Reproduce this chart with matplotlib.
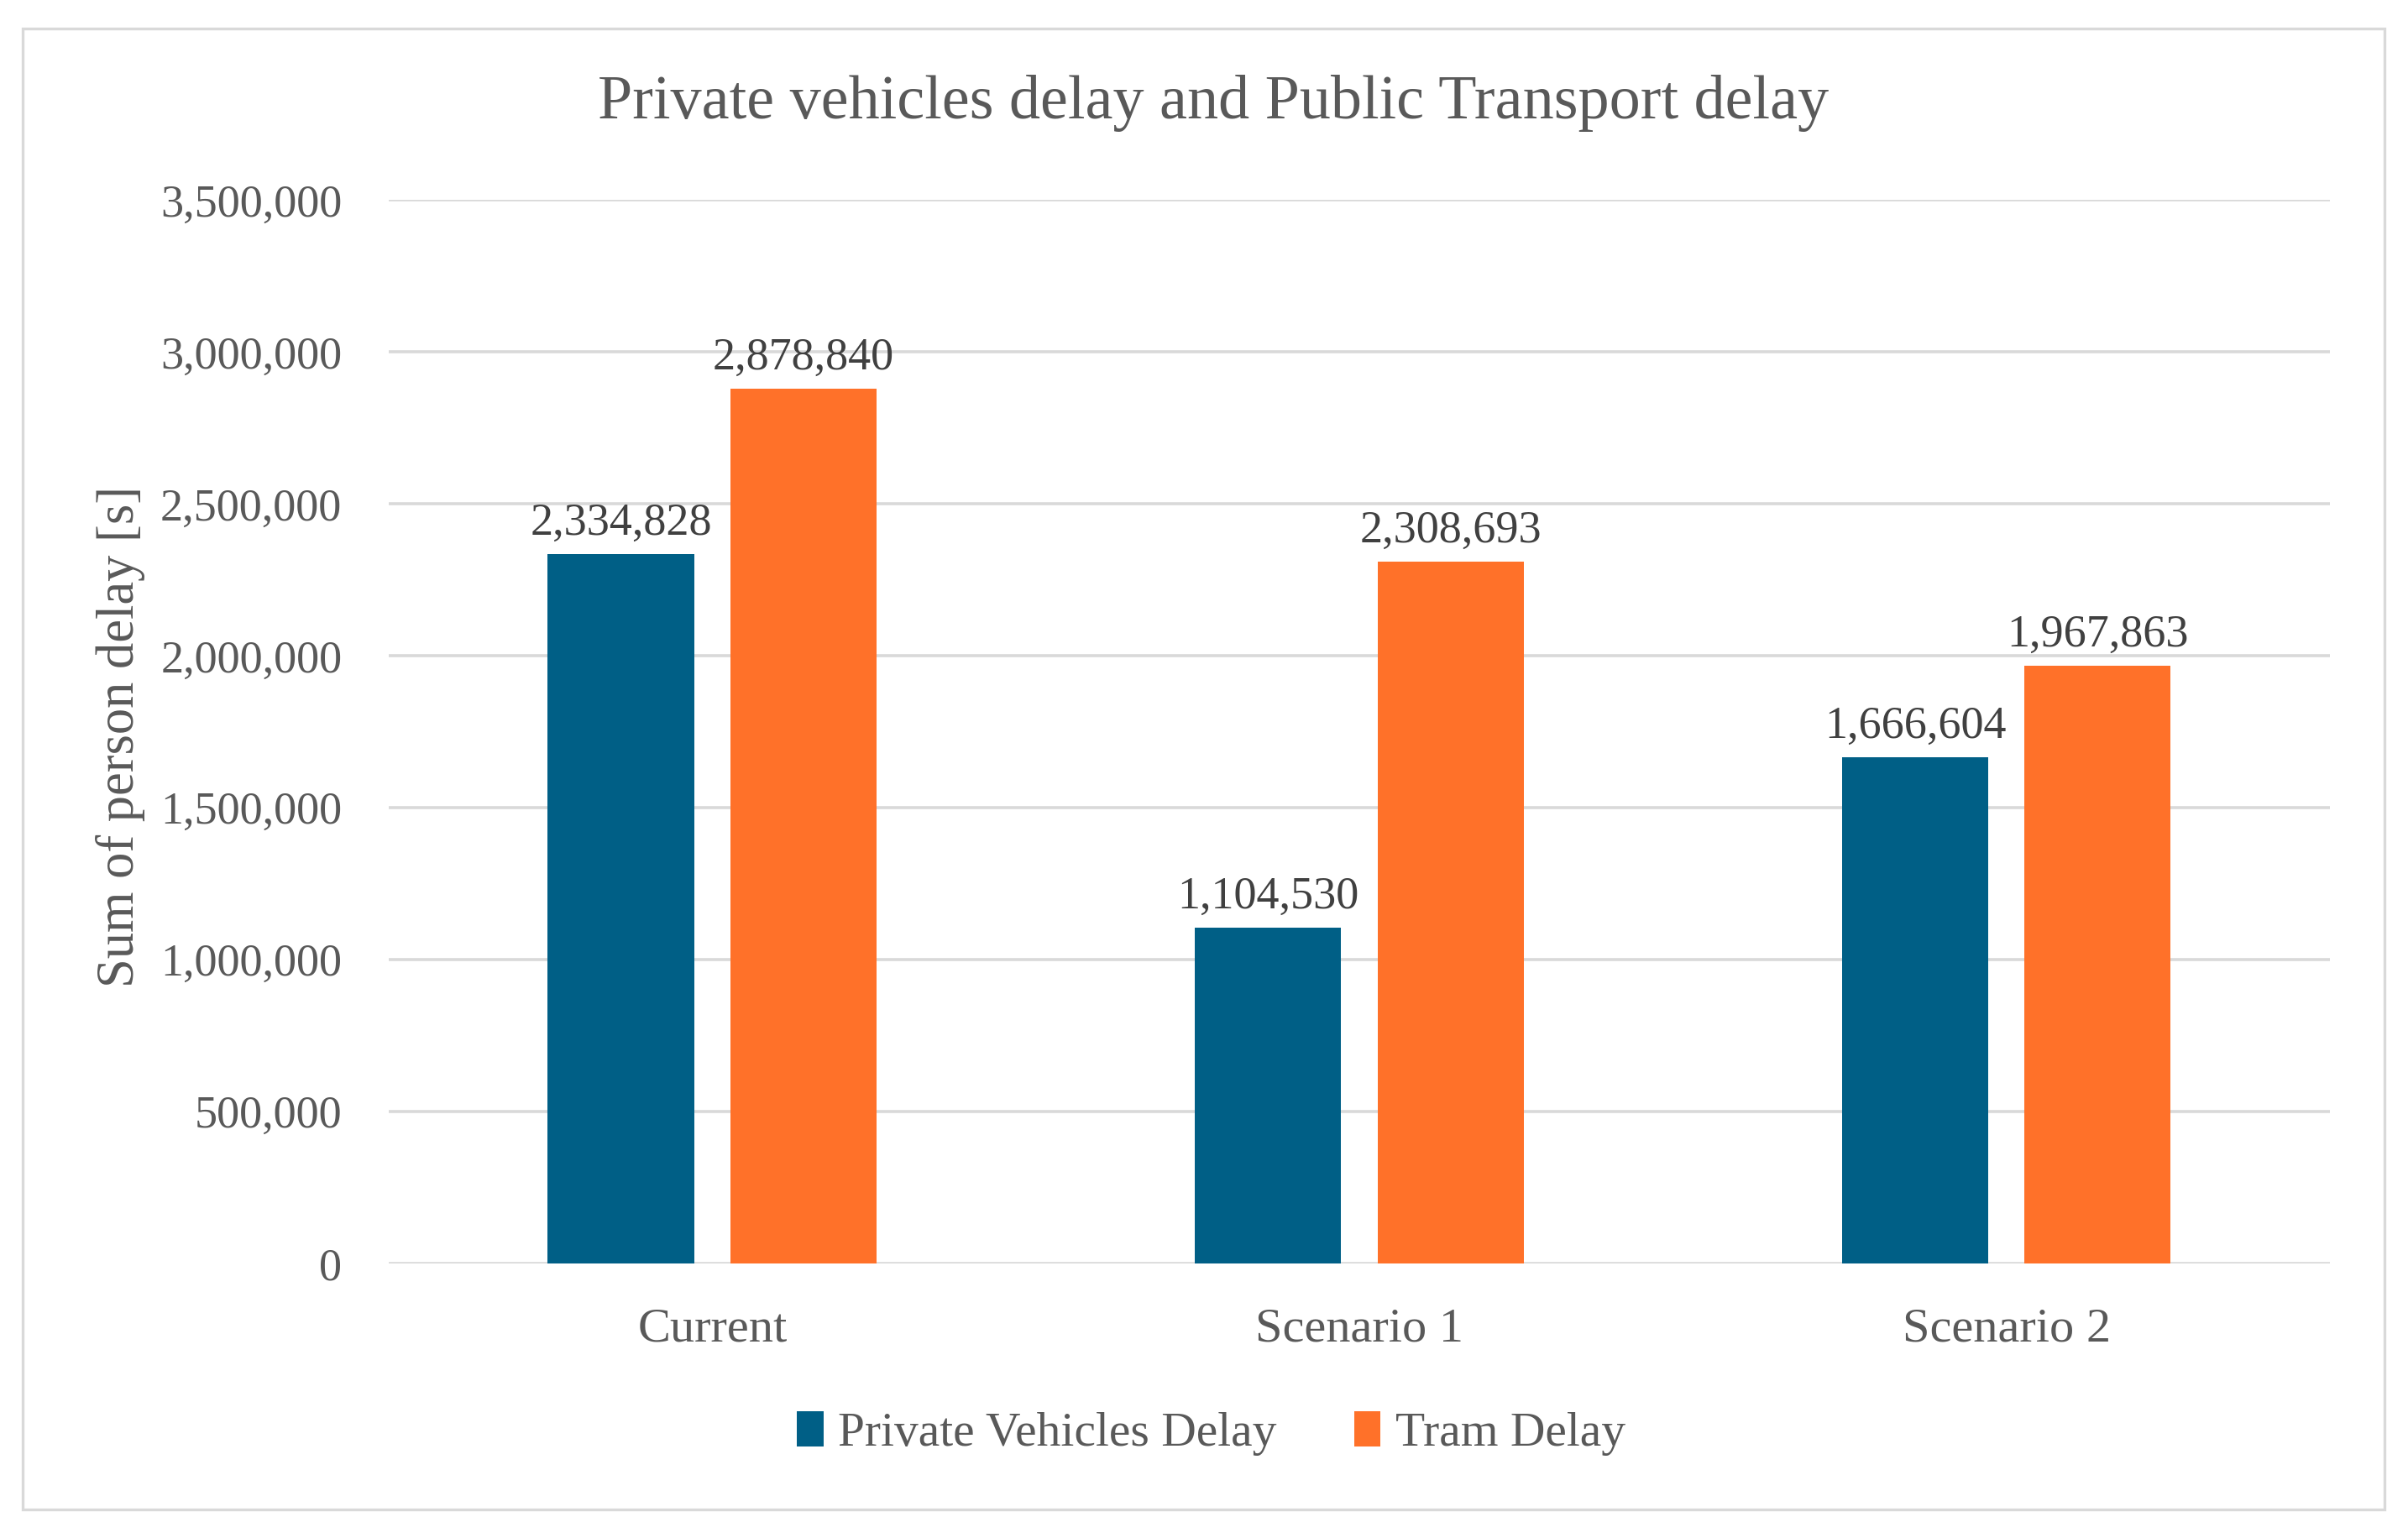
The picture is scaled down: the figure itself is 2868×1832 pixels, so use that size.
import numpy as np
import matplotlib
matplotlib.use('Agg')
from matplotlib import pyplot as plt
from matplotlib.patches import Rectangle
from matplotlib.ticker import FuncFormatter

categories = ['Current', 'Scenario 1', 'Scenario 2']
private_delay = [2334828, 1104530, 1666604]
tram_delay = [2878840, 2308693, 1967863]
series_names = ['Private Vehicles Delay', 'Tram Delay']
y_ticks = [0, 500000, 1000000, 1500000, 2000000, 2500000, 3000000, 3500000]

BLUE = '#005F86'
ORANGE = '#FF7129'
GRID = '#D9D9D9'
TEXT = '#595959'
LABEL = '#404040'

plt.rcParams['font.family'] = ['Liberation Serif', 'DejaVu Serif']

fig = plt.figure(figsize=(14.34, 9.16), dpi=200)
ax = fig.add_axes([0.1614, 0.1785, 0.8062, 0.6915])

x = np.arange(len(categories))
width = 0.226
offset = 0.141
bars1 = ax.bar(x - offset, private_delay, width, color=BLUE,
               label=series_names[0], zorder=3)
bars2 = ax.bar(x + offset, tram_delay, width, color=ORANGE,
               label=series_names[1], zorder=3)

# value labels above each bar
for bars in (bars1, bars2):
    for b in bars:
        ax.annotate('{:,}'.format(int(b.get_height())),
                    (b.get_x() + b.get_width() / 2, b.get_height()),
                    xytext=(0, 4), textcoords='offset points',
                    ha='center', va='bottom', fontsize=19.5, color=LABEL)

ax.set_xlim(-0.5, 2.5)
ax.set_ylim(0, 3500000)
ax.set_yticks(y_ticks)
ax.yaxis.set_major_formatter(FuncFormatter(lambda v, p: '{:,}'.format(int(v))))
ax.set_xticks(x)
ax.set_xticklabels(categories)
ax.tick_params(axis='both', length=0, labelcolor=TEXT)
ax.tick_params(axis='y', pad=20, labelsize=19.5)
ax.tick_params(axis='x', pad=19, labelsize=21)
ax.grid(axis='y', color=GRID, lw=1.3, zorder=0)
for s in ax.spines.values():
    s.set_visible(False)

fig.text(0.504, 0.933, 'Private vehicles delay and Public Transport delay',
         ha='center', va='center', fontsize=26.7, color=TEXT)
fig.text(0.05, 0.521, 'Sum of person delay [s]', rotation=90,
         ha='center', va='center', fontsize=22.5, color=TEXT)

fig.legend(loc='center', bbox_to_anchor=(0.503, 0.068), ncol=2,
           frameon=False, fontsize=20.7, handlelength=0.55, handleheight=0.75,
           handletextpad=0.3, columnspacing=1.6, labelcolor=TEXT)

fig.patches.append(Rectangle((0.0094, 0.0186), 0.981, 0.963,
                             transform=fig.transFigure, fill=False,
                             edgecolor=GRID, lw=1.2))

fig.savefig('out.png', dpi=200, facecolor='white')
